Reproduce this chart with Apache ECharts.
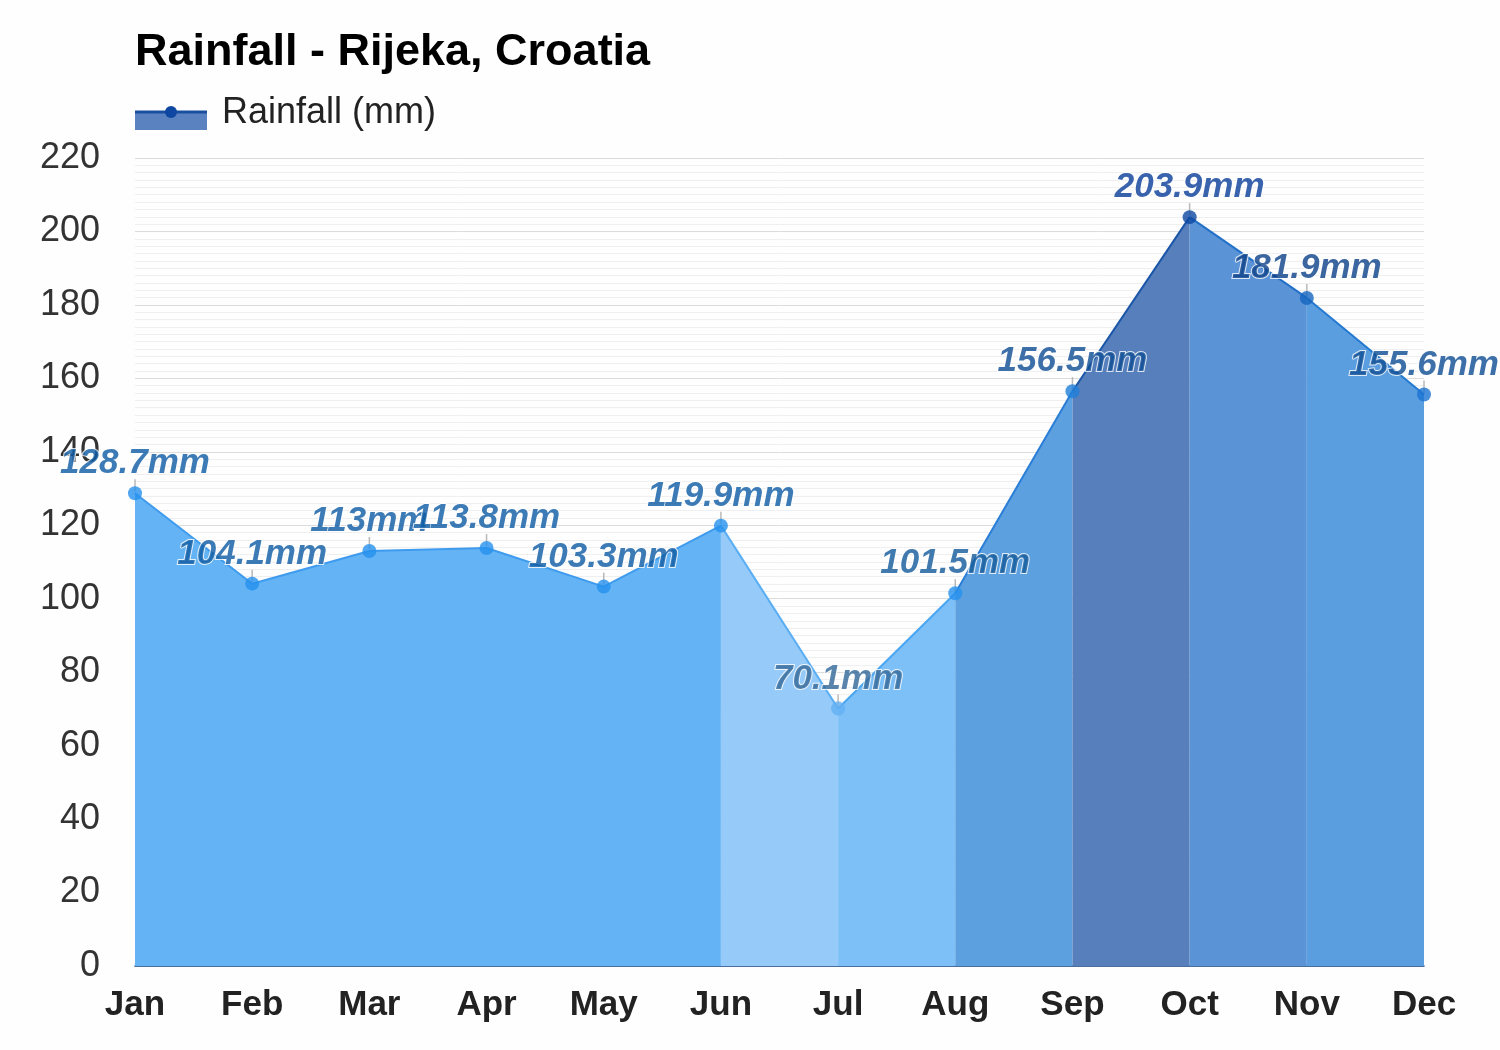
<!DOCTYPE html>
<html><head><meta charset="utf-8">
<script src="https://cdn.jsdelivr.net/npm/echarts@6/dist/echarts.min.js"></script>
<style>html,body{margin:0;padding:0;background:#fdfefd}#c{width:1500px;height:1050px}</style>
</head><body><div id="c"></div>
<script>
const months = ['Jan','Feb','Mar','Apr','May','Jun','Jul','Aug','Sep','Oct','Nov','Dec'];
const rainfall = [128.7,104.1,113,113.8,103.3,119.9,70.1,101.5,156.5,203.9,181.9,155.6];
const yTicks = [0,20,40,60,80,100,120,140,160,180,200,220];

// colour runs: [startIndex, endIndex]
const runs = [[0,5],[5,6],[6,7],[7,8],[8,9],[9,10],[10,11]];
const runFill = ['#64b4f5','#96cbf9','#7dbff7','#5ca0df','#567fbc','#5a93d6','#5b9ee0'];
const runLine = ['#3f9bee','#5aaef3','#4aa6f1','#2a7ed8','#1a55a8','#2370c8','#2479d0'];
const ptColor = ['#2591ed','#2591ed','#2591ed','#2591ed','#2591ed','#2591ed','#62b0f2','#2591ed','#1f7fdb','#0d47a1','#1565c0','#1a74d2'];
const lblColor = ['#0b5aa3','#0b5aa3','#0b5aa3','#0b5aa3','#0b5aa3','#0b5aa3','#2f6698','#10599a','#0c4c94','#083c98','#0a4088','#0c4c94'];

const series = [];
runs.forEach(([a, b], k) => {
  const d = rainfall.map((v, j) => (j >= a && j <= b) ? v : '-');
  series.push({
    type: 'line', data: d, symbol: 'none', silent: true,
    lineStyle: { color: runLine[k], width: 2 },
    areaStyle: { color: runFill[k], opacity: 1 },
    z: 2
  });
});
series.push({
  type: 'scatter', data: rainfall, symbol: 'rect', symbolSize: [1.5, 12], symbolOffset: [0, -8],
  itemStyle: { color: '#a8a8a8' }, silent: true, z: 4
});
series.push({
  type: 'scatter', name: 'Rainfall (mm)',
  data: rainfall.map((v, j) => ({ value: v, itemStyle: { color: ptColor[j] }, label: { color: lblColor[j] } })),
  symbolSize: 14, z: 5,
  label: {
    show: true, position: 'top', distance: 5,
    formatter: p => p.value + 'mm',
    fontFamily: 'Liberation Sans', fontSize: 35, fontWeight: 'bold', fontStyle: 'italic',
    textBorderColor: '#ffffff', textBorderWidth: 2
  }
});

const chart = echarts.init(document.getElementById('c'), null, { renderer: 'canvas' });
chart.setOption({
  backgroundColor: '#fdfefd',
  animation: false,
  title: {
    text: 'Rainfall - Rijeka, Croatia', left: 130, top: 25,
    textStyle: { fontFamily: 'Liberation Sans', fontSize: 45, fontWeight: 'bold', color: '#000' }
  },
  graphic: [
    { type: 'rect', shape: { x: 135, y: 112, width: 72, height: 18 }, style: { fill: '#5a82c0' } },
    { type: 'line', shape: { x1: 135, y1: 112, x2: 207, y2: 112 }, style: { stroke: '#1a4fa0', lineWidth: 3 } },
    { type: 'circle', shape: { cx: 171, cy: 112, r: 6 }, style: { fill: '#0d47a1' } },
    { type: 'text', x: 222, y: 113, style: { text: 'Rainfall (mm)', fontFamily: 'Liberation Sans', fontSize: 36, fill: '#222', verticalAlign: 'middle' } }
  ],
  grid: { left: 135, right: 76, top: 158, bottom: 84, containLabel: false },
  xAxis: {
    type: 'category', data: months, boundaryGap: false,
    axisLine: { lineStyle: { color: '#1c4a86', width: 1.5 } },
    axisTick: { show: false },
    axisLabel: { margin: 22, fontFamily: 'Liberation Sans', fontSize: 35, fontWeight: 'bold', color: '#222' },
    splitLine: { show: false }
  },
  yAxis: {
    type: 'value', min: 0, max: 220, interval: 20,
    axisLine: { show: false }, axisTick: { show: false },
    axisLabel: { margin: 35, fontFamily: 'Liberation Sans', fontSize: 36, color: '#333',
      formatter: v => yTicks.includes(v) ? String(v) : '' },
    splitLine: { lineStyle: { color: '#dcdcdc', width: 1 } },
    minorTick: { show: false, splitNumber: 10 },
    minorSplitLine: { show: true, lineStyle: { color: '#efefef', width: 1 } }
  },
  series: series
});
</script></body></html>
